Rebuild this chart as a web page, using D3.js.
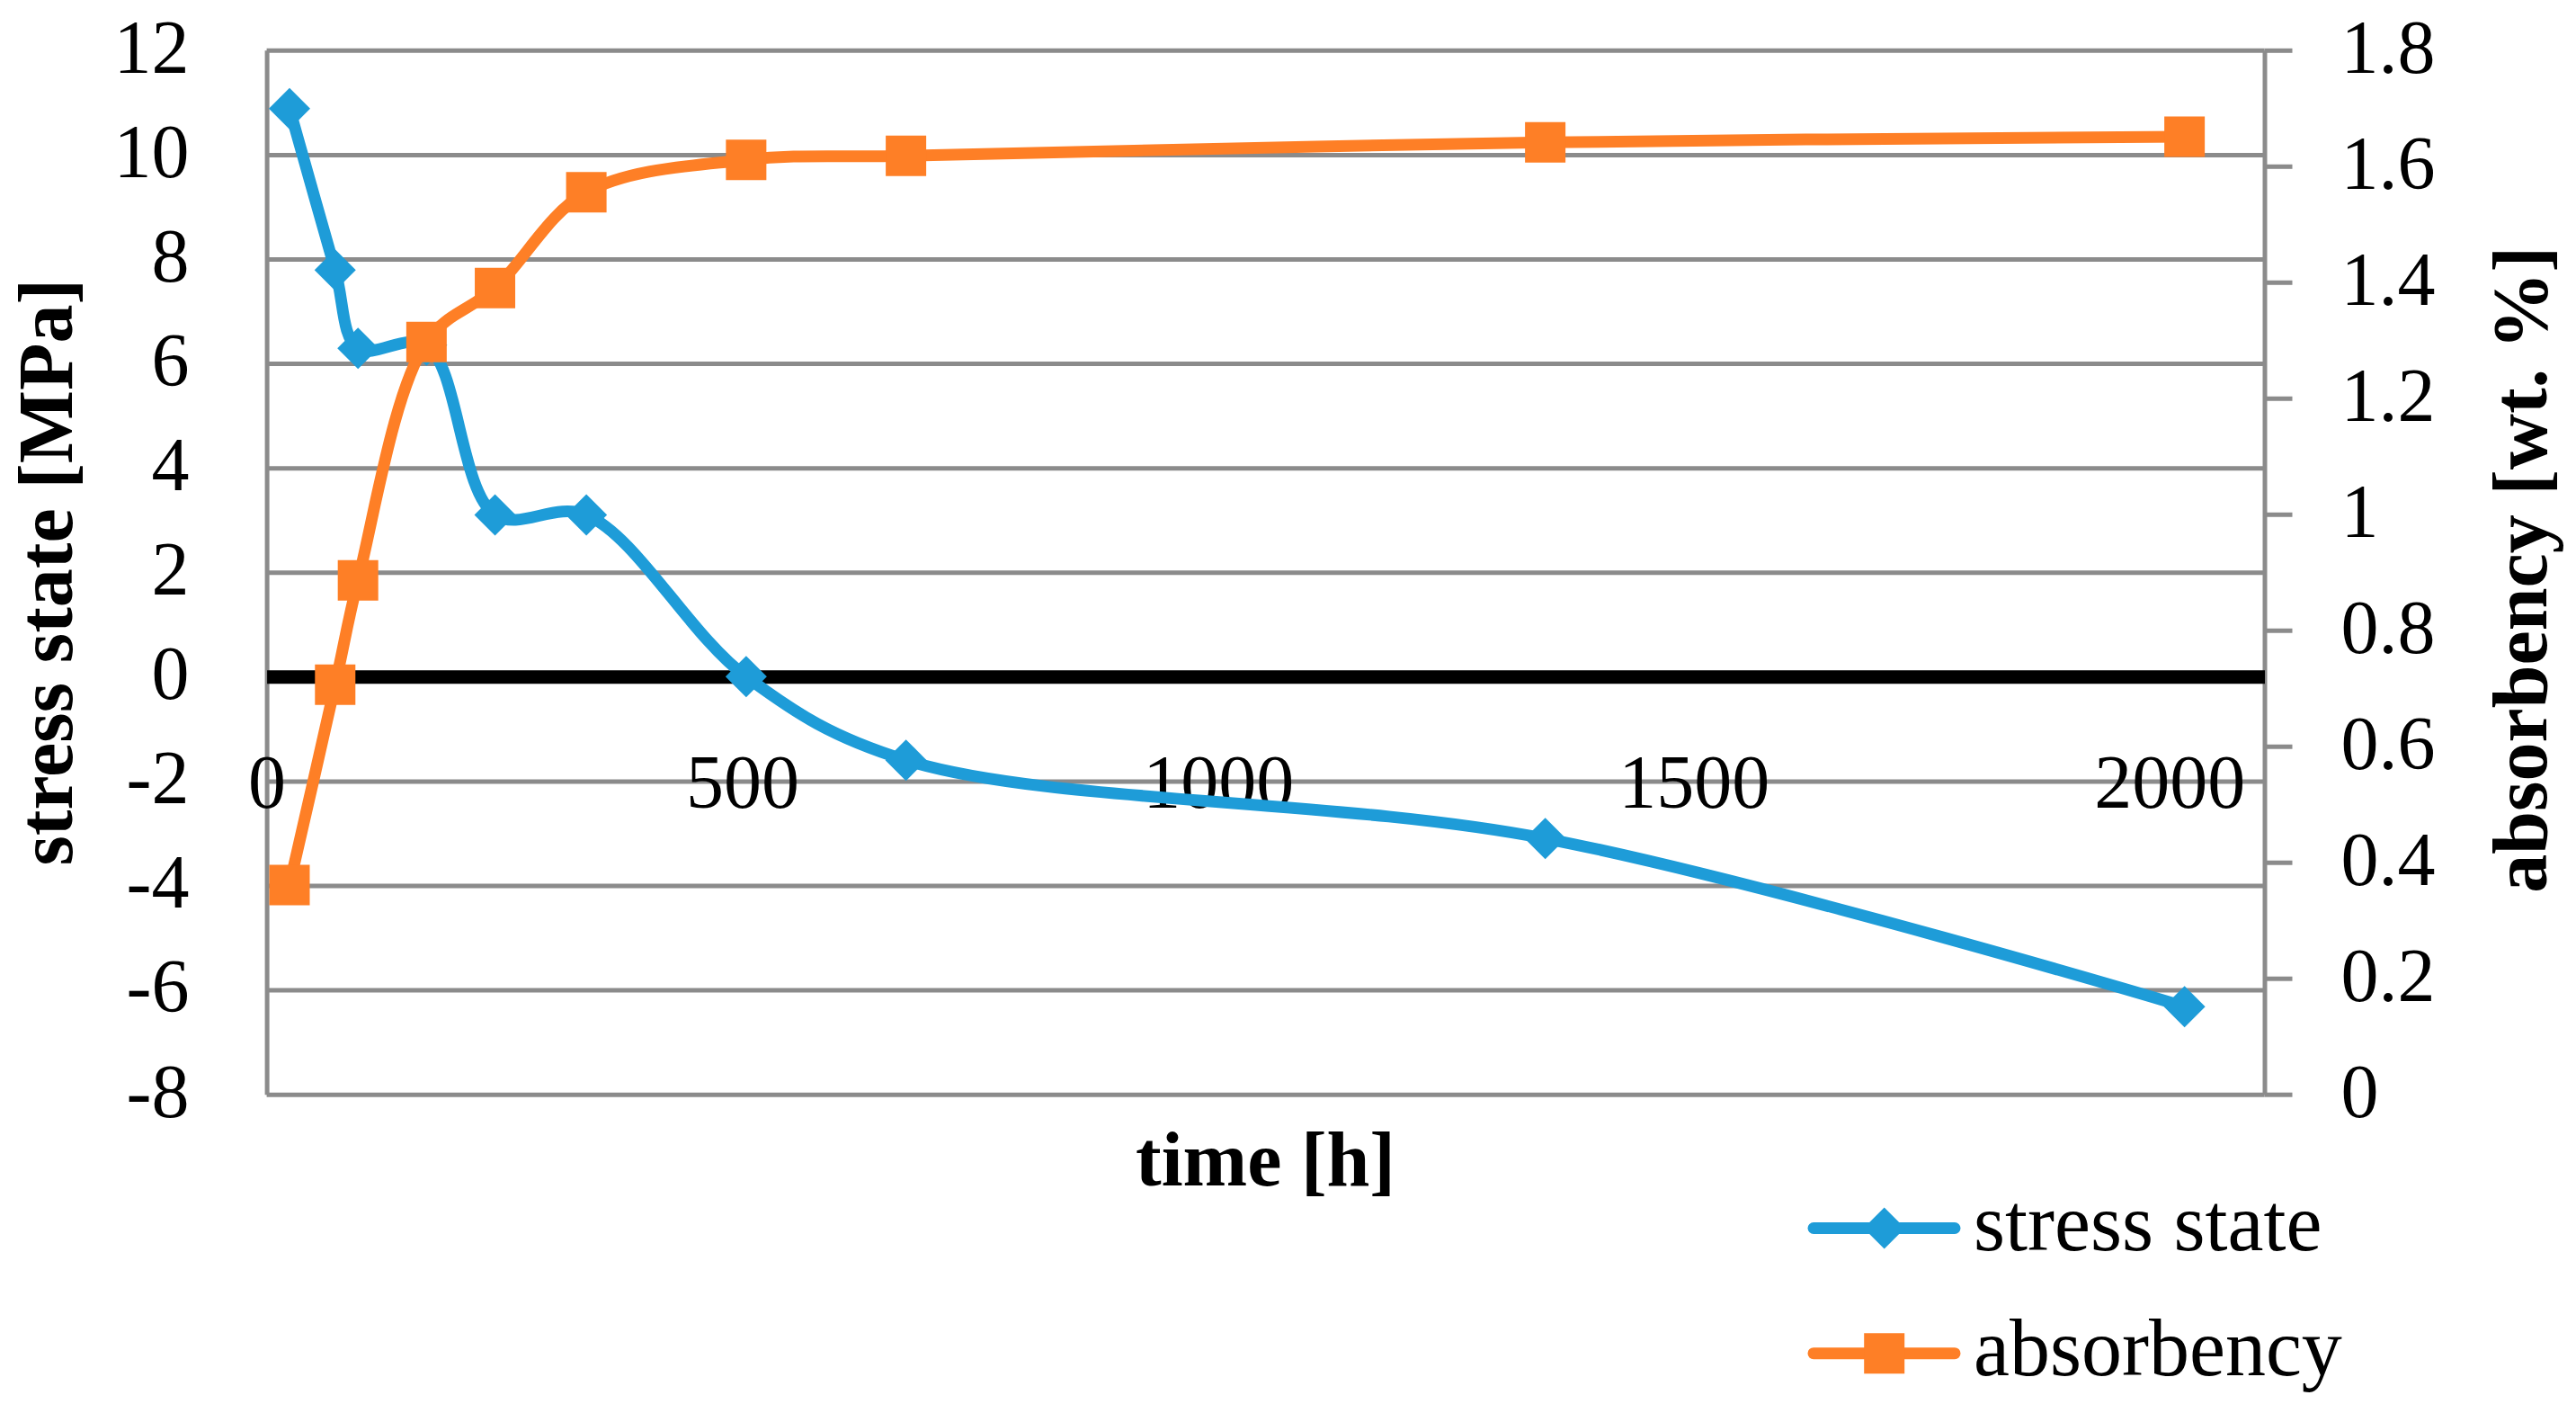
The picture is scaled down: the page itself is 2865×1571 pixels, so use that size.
<!DOCTYPE html>
<html>
<head>
<meta charset="utf-8">
<script src="https://cdn.jsdelivr.net/npm/d3@7"></script>
<style>
  html, body { margin: 0; padding: 0; background: #ffffff; }
  svg { display: block; }
</style>
</head>
<body>
<script>
// ---- data ----
const timeH = [24, 72, 96, 168, 240, 336, 504, 672, 1344, 2016];
const stressMPa = [10.88, 7.79, 6.29, 6.35, 3.10, 3.10, 0.0, -1.60, -3.10, -6.32];
const absorbencyWt = [0.361, 0.706, 0.886, 1.297, 1.390, 1.555, 1.611, 1.618, 1.641, 1.651];
const xTicks = [0, 500, 1000, 1500, 2000];
const leftTicks = [-8, -6, -4, -2, 0, 2, 4, 6, 8, 10, 12];
const rightTicks = [0, 0.2, 0.4, 0.6, 0.8, 1.0, 1.2, 1.4, 1.6, 1.8];
const seriesNames = ["stress state", "absorbency"];
const axisTitles = { x: "time [h]", left: "stress state [MPa]", right: "absorbency [wt. %]" };

// ---- layout / style ----
const W = 2865, H = 1571;
const plot = { left: 296.6, right: 2518.5, top: 55.8, bottom: 1216.7 };
const BLUE = "#1e9cd8", ORANGE = "#fe7f26", GRID = "#8b8b8b";
const FONT = "'Liberation Serif', 'Times New Roman', serif";
const plainFmt = d => String(+d.toFixed(1));

const svg = d3.select("body").append("svg")
  .attr("width", W).attr("height", H)
  .attr("viewBox", `0 0 ${W} ${H}`);
svg.append("rect").attr("width", W).attr("height", H).attr("fill", "#fff");

const x = d3.scaleLinear().domain([0, 2100]).range([plot.left, plot.right]);
const yL = d3.scaleLinear().domain([-8, 12]).range([plot.bottom, plot.top]);
const yR = d3.scaleLinear().domain([0, 1.8]).range([plot.bottom, plot.top]);

// gridlines
const grid = svg.append("g")
  .attr("transform", `translate(${plot.left},0)`)
  .call(d3.axisLeft(yL).tickValues(leftTicks).tickSize(-(plot.right - plot.left)).tickFormat(""));
grid.select(".domain").remove();
grid.selectAll("line").attr("stroke", GRID).attr("stroke-width", 5);

// left axis
const gL = svg.append("g")
  .attr("transform", `translate(${plot.left},0)`)
  .call(d3.axisLeft(yL).tickValues(leftTicks).tickSize(0).tickSizeOuter(0).tickPadding(86)
    .tickFormat(plainFmt));
gL.select(".domain").attr("stroke", GRID).attr("stroke-width", 5);
gL.selectAll("text")
  .attr("font-family", FONT).attr("font-size", 84).attr("fill", "#000")
  .attr("dy", "0.29em");

// right axis
const gR = svg.append("g")
  .attr("transform", `translate(${plot.right},0)`)
  .call(d3.axisRight(yR).tickValues(rightTicks).tickSize(31).tickSizeOuter(0).tickPadding(54)
    .tickFormat(plainFmt));
gR.select(".domain").attr("stroke", GRID).attr("stroke-width", 5);
gR.selectAll("line").attr("stroke", GRID).attr("stroke-width", 5);
gR.selectAll("text")
  .attr("font-family", FONT).attr("font-size", 84).attr("fill", "#000")
  .attr("dy", "0.29em");

// x axis (at zero line)
const gX = svg.append("g")
  .attr("transform", `translate(0,${yL(0)})`)
  .call(d3.axisBottom(x).tickValues(xTicks).tickSize(0).tickSizeOuter(0).tickPadding(86)
    .tickFormat(plainFmt));
gX.select(".domain").attr("stroke", "#000").attr("stroke-width", 15);
gX.selectAll("text")
  .attr("font-family", FONT).attr("font-size", 84).attr("fill", "#000")
  .attr("dy", "0.71em");

// series
const curve = d3.curveCatmullRom.alpha(0.5);
const stressPts = timeH.map((t, i) => [x(t), yL(stressMPa[i])]);
const absPts = timeH.map((t, i) => [x(t), yR(absorbencyWt[i])]);

const diamond = d3.symbol(d3.symbolSquare, 1058);
const square = d3.symbol(d3.symbolSquare, 2025);

svg.append("path")
  .attr("d", d3.line().curve(curve)(stressPts))
  .attr("fill", "none").attr("stroke", BLUE).attr("stroke-width", 13)
  .attr("stroke-linejoin", "round").attr("stroke-linecap", "round");
svg.append("g").selectAll("path").data(stressPts).join("path")
  .attr("d", diamond())
  .attr("transform", d => `translate(${d[0]},${d[1]}) rotate(45)`)
  .attr("fill", BLUE);

svg.append("path")
  .attr("d", d3.line().curve(curve)(absPts))
  .attr("fill", "none").attr("stroke", ORANGE).attr("stroke-width", 13)
  .attr("stroke-linejoin", "round").attr("stroke-linecap", "round");
svg.append("g").selectAll("path").data(absPts).join("path")
  .attr("d", square())
  .attr("transform", d => `translate(${d[0]},${d[1]})`)
  .attr("fill", ORANGE);

// axis titles
svg.append("text")
  .attr("transform", `translate(80,${(plot.top + plot.bottom) / 2}) rotate(-90)`)
  .attr("text-anchor", "middle")
  .attr("font-family", FONT).attr("font-weight", "bold").attr("font-size", 86)
  .text(axisTitles.left);
svg.append("text")
  .attr("transform", `translate(2832,${(plot.top + plot.bottom) / 2 - 3}) rotate(-90)`)
  .attr("text-anchor", "middle")
  .attr("font-family", FONT).attr("font-weight", "bold").attr("font-size", 86)
  .text(axisTitles.right);
svg.append("text")
  .attr("x", (plot.left + plot.right) / 2).attr("y", 1318)
  .attr("text-anchor", "middle")
  .attr("font-family", FONT).attr("font-weight", "bold").attr("font-size", 86)
  .text(axisTitles.x);

// legend
const legend = [
  { name: seriesNames[0], color: BLUE, sym: diamond, rot: 45, y: 1365.5 },
  { name: seriesNames[1], color: ORANGE, sym: square, rot: 0, y: 1504.7 }
];
const lg = svg.append("g").selectAll("g").data(legend).join("g")
  .attr("transform", d => `translate(0,${d.y})`);
lg.append("line")
  .attr("x1", 2017).attr("x2", 2174).attr("y1", 0).attr("y2", 0)
  .attr("stroke", d => d.color).attr("stroke-width", 13).attr("stroke-linecap", "round");
lg.append("path")
  .attr("d", d => d.sym())
  .attr("transform", d => `translate(2095.7,0) rotate(${d.rot})`)
  .attr("fill", d => d.color);
lg.append("text")
  .attr("x", 2195).attr("y", 24)
  .attr("font-family", FONT).attr("font-size", 90).attr("fill", "#000")
  .text(d => d.name);
</script>
</body>
</html>
